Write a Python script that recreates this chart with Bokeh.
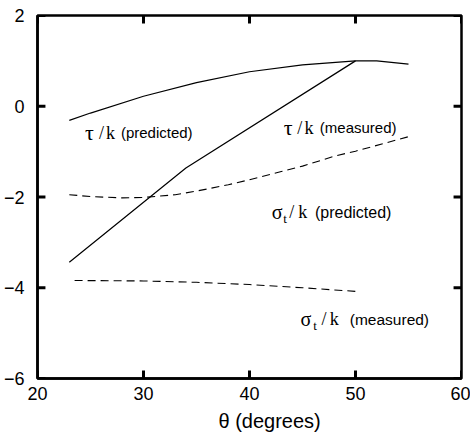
from bokeh.plotting import figure
from bokeh.models import Range1d, LinearAxis, FixedTicker, Label, Title
from bokeh.embed import file_html
from bokeh.resources import INLINE

# ---- data ----
theta_tau_pred = [23, 25, 30, 35, 40, 45, 50, 52, 55]
tau_pred = [-0.31, -0.15, 0.22, 0.52, 0.76, 0.91, 1.0, 1.0, 0.93]

theta_tau_meas = [23, 34, 50]
tau_meas = [-3.44, -1.36, 1.0]

theta_sig_pred = [23, 25, 28, 30, 33, 35, 38, 40, 43, 45, 48, 50, 53, 55]
sig_pred = [-1.95, -1.99, -2.02, -2.01, -1.95, -1.87, -1.73, -1.62, -1.44, -1.32, -1.10, -0.99, -0.80, -0.67]

theta_sig_meas = [23.5, 30, 35, 40, 45, 50]
sig_meas = [-3.84, -3.85, -3.88, -3.93, -4.00, -4.08]

x_ticks = [20, 30, 40, 50, 60]
y_ticks = [-6, -4, -2, 0, 2]
x_min, x_max = 20, 60
y_min, y_max = -6, 2

SERIF = "Liberation Serif"
SANS = "Liberation Sans"

W, H = 470, 436
B_LEFT, B_RIGHT, B_TOP, B_BOTTOM = 34, 9, 15, 58
TICK_PX = 8

p = figure(width=W, height=H, output_backend="svg", toolbar_location=None,
           x_range=Range1d(x_min, x_max), y_range=Range1d(y_min, y_max),
           min_border_left=B_LEFT, min_border_right=B_RIGHT,
           min_border_top=B_TOP, min_border_bottom=B_BOTTOM,
           x_axis_location=None, y_axis_location=None)
p.outline_line_color = "black"
p.outline_line_width = 2.5
p.outline_line_alpha = 1.0
p.xgrid.visible = False
p.ygrid.visible = False
p.background_fill_color = "white"
p.border_fill_color = "white"


def label_axis(ax, ticks, standoff):
    ax.ticker = FixedTicker(ticks=ticks)
    ax.axis_line_color = "black"
    ax.axis_line_width = 2.5
    ax.major_tick_line_color = None
    ax.minor_tick_line_color = None
    ax.major_label_text_font = SANS
    ax.major_label_text_font_size = "18px"
    ax.major_label_text_color = "black"
    ax.major_label_standoff = standoff


bottom = LinearAxis()
label_axis(bottom, x_ticks, 2)
p.add_layout(bottom, "below")

left = LinearAxis()
label_axis(left, y_ticks, 7)
p.add_layout(left, "left")

# inward tick marks on all four sides, converted from pixels to data units
frame_w = W - B_LEFT - B_RIGHT
frame_h = H - B_TOP - B_BOTTOM
tx = (x_max - x_min) / frame_w * TICK_PX
ty = (y_max - y_min) / frame_h * TICK_PX
n_x, n_y = len(x_ticks), len(y_ticks)
tick_style = dict(line_color="black", line_width=3, line_alpha=1.0)
p.segment(x0=x_ticks, y0=[y_min] * n_x, x1=x_ticks, y1=[y_min + ty] * n_x, **tick_style)
p.segment(x0=x_ticks, y0=[y_max] * n_x, x1=x_ticks, y1=[y_max - ty] * n_x, **tick_style)
p.segment(x0=[x_min] * n_y, y0=y_ticks, x1=[x_min + tx] * n_y, y1=y_ticks, **tick_style)
p.segment(x0=[x_max] * n_y, y0=y_ticks, x1=[x_max - tx] * n_y, y1=y_ticks, **tick_style)

# axis title (placed in the panel below the x axis)
p.add_layout(Title(text="θ (degrees)", align="left", offset=181, standoff=10,
                   text_font=SANS, text_font_size="20px", text_font_style="normal",
                   text_color="black"), "below")

# ---- curves ----
p.line(theta_tau_pred, tau_pred, line_color="black", line_width=1.2)
p.line(theta_tau_meas, tau_meas, line_color="black", line_width=1.2)
p.line(theta_sig_pred, sig_pred, line_color="black", line_width=1.1, line_dash="8 5")
p.line(theta_sig_meas, sig_meas, line_color="black", line_width=1.1, line_dash="8 5")


def add_parts(x, y, parts):
    for text, dx, dy, font, size in parts:
        p.add_layout(Label(x=x, y=y, x_offset=dx, y_offset=dy, text=text,
                           text_font=font, text_font_size=f"{size}px",
                           text_color="black", text_baseline="alphabetic",
                           text_align="left"))


add_parts(24.47, -0.587, [
    ("τ", 0, 0, SERIF, 22), ("/", 14, 0, SERIF, 18), ("k", 21, 0, SERIF, 18),
    ("(predicted)", 36, 0, SANS, 15)])
add_parts(43.24, -0.477, [
    ("τ", 0, 0, SERIF, 22), ("/", 13.4, 0, SERIF, 18), ("k", 20.7, 0, SERIF, 18),
    ("(measured)", 36, 0, SANS, 15)])
add_parts(42.09, -2.338, [
    ("σ", 0, 0, SERIF, 20), ("t", 11.7, -6, SERIF, 13), ("/", 17.7, 0, SERIF, 18),
    ("k", 26.7, 0, SERIF, 18), ("(predicted)", 43.3, 0, SANS, 16)])
add_parts(44.81, -4.689, [
    ("σ", 0, 0, SERIF, 20), ("t", 12.7, -6, SERIF, 13), ("/", 21, 0, SERIF, 18),
    ("k", 29.3, 0, SERIF, 18), ("(measured)", 49.3, 0, SANS, 15.5)])

open("out.html", "w").write(file_html(p, INLINE))
